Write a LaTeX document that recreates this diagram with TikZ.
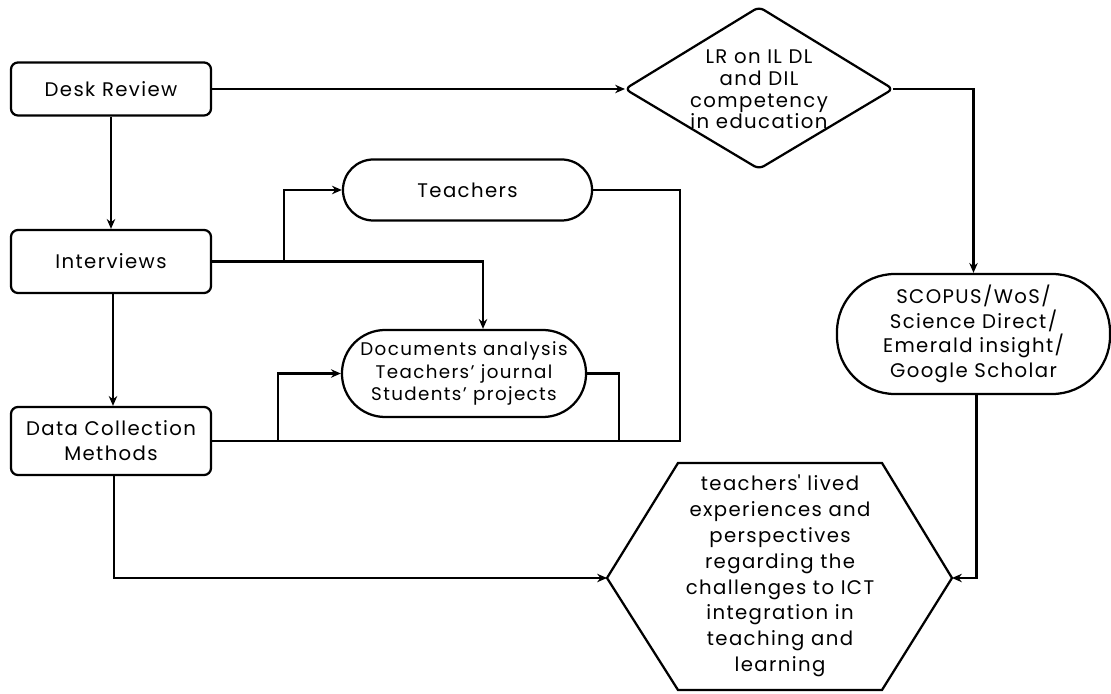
\documentclass[tikz,border=0pt]{standalone}
\usepackage{fontspec}
\setmainfont{Poppins}[LetterSpace=7]
\usetikzlibrary{arrows.meta}
\begin{document}
\begin{tikzpicture}[x=0.025cm,y=-0.025cm,
  line width=1.6pt,
  arr/.style={-{Stealth[length=7pt,width=6pt]}},
  txt/.style={align=center,inner sep=0pt},
  box/.style={draw,rounded corners=5pt,minimum width=5cm,align=center,inner sep=0pt},
  pill/.style={draw,align=center,inner sep=0pt},
]
\useasboundingbox (0,0) rectangle (1111,694);
\newcommand{\fs}[2][14]{\fontsize{#1}{#2}\selectfont}

% boxes
\node[box,minimum height=1.325cm,font=\fs{17}] (desk) at (111,89) {Desk Review};
\node[box,minimum height=1.575cm,font=\fs{17}] (intv) at (111,261.5) {Interviews};
\node[box,minimum height=1.7cm,font=\fs{17.7}] (dcm) at (111,441) {Data Collection\\Methods};

% pills
\node[pill,minimum width=6.225cm,minimum height=1.525cm,rounded corners=0.76cm,font=\fs{17}] (teach) at (467.5,190) {Teachers};
\node[pill,minimum width=6.1cm,minimum height=2.175cm,rounded corners=1.08cm,font={\fs[13]{16.3}\addfontfeature{LetterSpace=7.5}}] (docs) at (464,373.5) {Documents analysis\\Teachers’ journal\\Students’ projects};
\node[pill,minimum width=6.825cm,minimum height=3cm,rounded corners=1.45cm,font=\fs{17.4}] (scop) at (973.5,334) {SCOPUS/WoS/\\Science Direct/\\Emerald insight/\\Google Scholar};

% diamond
\coordinate (dT) at (759,7);
\coordinate (dR) at (893,89);
\coordinate (dB) at (759,169);
\coordinate (dL) at (625,89);
\draw[rounded corners=4pt] (dT) -- (dR) -- (dB) -- (dL) -- cycle;
\node[txt,font=\fs{15.4}] (lr) at (759,89.5) {LR on IL DL\\and DIL\\competency\\in education};

% hexagon
\coordinate (hL) at (607,578);
\coordinate (hTL) at (678,463);
\coordinate (hTR) at (882,463);
\coordinate (hR) at (952,578);
\coordinate (hBR) at (882,690);
\coordinate (hBL) at (678,690);
\draw (hL) -- (hTL) -- (hTR) -- (hR) -- (hBR) -- (hBL) -- cycle;
\node[txt,font=\fs{18.4}] (hex) at (780,576) {teachers\textquotesingle\ lived\\experiences and\\perspectives\\regarding the\\challenges to ICT\\integration in\\teaching and\\learning};

% connectors
\draw[arr] (desk.east) -- (dL);
\draw[arr] (desk.south) -- (intv.north);
\draw[arr] ([xshift=0.05cm]intv.south) -- ([xshift=0.05cm]dcm.north);
\draw[arr] (dR) -| (scop.north);
\draw[arr] ([xshift=0.075cm]scop.south) |- (hR);
\draw[arr] (intv.east) -- ++(72,0) |- (teach.west);
\draw[arr] (intv.east) -| ([xshift=0.475cm]docs.north);
\draw (teach.east) -| (680,441) -- (dcm.east);
\draw[arr] (278,441) |- (docs.west);
\draw (docs.east) -| (619,441);
\draw[arr] ([xshift=0.075cm]dcm.south) |- (hL);
\end{tikzpicture}
\end{document}
